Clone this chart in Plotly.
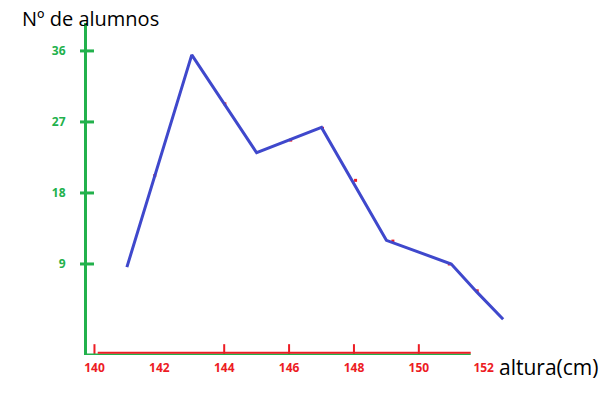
import plotly.graph_objects as go

# ---- data ----
heights = [141, 143, 145, 147, 149, 151, 151.8, 152.6]          # altura (cm)
students = [8.6, 35.5, 23.1, 26.3, 12.0, 9.0, 5.4, 2.0]          # Nº de alumnos
mark_x = [141.86, 143, 144.02, 146.05, 147.03, 148.05, 149.2, 150.94, 151.8]  # small red marks on the line
mark_y = [20.2, 35.3, 29.3, 24.7, 26.2, 19.6, 11.9, 9.0, 5.6]
y_ticks = [9, 18, 27, 36]
x_ticks = [140, 142, 144, 146, 148, 150, 152]
x_tick_marks = [140, 144, 146, 148, 150]

GREEN = "#22b14c"
RED = "#ed1c24"
BLUE = "#3f48cc"

X_RANGE = [139.77, 155.74]
Y_RANGE = [-2.535, 39.54]
X_AXIS_END = 151.6

fig = go.Figure()

# red marks (mostly hidden under the line)
fig.add_trace(go.Scatter(x=mark_x, y=mark_y, mode="markers",
                         marker=dict(symbol="square", size=3, color=RED),
                         hoverinfo="skip", showlegend=False))
# blue polygon
fig.add_trace(go.Scatter(x=heights, y=students, mode="lines",
                         line=dict(color=BLUE, width=3),
                         showlegend=False))
# y-axis tick marks (crossing the axis)
fig.add_trace(go.Scatter(x=[X_RANGE[0]] * len(y_ticks), y=y_ticks, mode="markers",
                         marker=dict(symbol="line-ew", size=10,
                                     line=dict(color=GREEN, width=3)),
                         cliponaxis=False, hoverinfo="skip", showlegend=False))
# x-axis tick marks (above the axis)
fig.add_trace(go.Scatter(x=x_tick_marks, y=[Y_RANGE[0] + 0.75] * len(x_tick_marks),
                         mode="markers",
                         marker=dict(symbol="line-ns", size=7,
                                     line=dict(color=RED, width=2)),
                         cliponaxis=False, hoverinfo="skip", showlegend=False))

# hand-drawn x-axis: green base line with a red line just above it
fig.add_shape(type="line", xref="x", yref="y",
              x0=X_RANGE[0], x1=X_AXIS_END, y0=Y_RANGE[0] + 0.05, y1=Y_RANGE[0] + 0.05,
              line=dict(color=GREEN, width=2), layer="above")
fig.add_shape(type="line", xref="x", yref="y",
              x0=140.1, x1=X_AXIS_END, y0=Y_RANGE[0] + 0.3, y1=Y_RANGE[0] + 0.3,
              line=dict(color=RED, width=2), layer="above")

fig.update_layout(
    width=615, height=393,
    margin=dict(l=87, r=10, t=23, b=38),
    paper_bgcolor="white", plot_bgcolor="white",
    font=dict(family="Open Sans, sans-serif"),
    xaxis=dict(range=X_RANGE, showgrid=False, zeroline=False, showline=False,
               tickvals=x_ticks, ticktext=[str(v) for v in x_ticks],
               ticks="", ticklabelstandoff=4,
               tickfont=dict(color=RED, size=12, weight="bold")),
    yaxis=dict(range=Y_RANGE, showgrid=False, zeroline=False,
               showline=True, linecolor=GREEN, linewidth=3,
               tickvals=y_ticks, ticktext=[str(v) for v in y_ticks],
               ticks="", ticklabelstandoff=16,
               tickfont=dict(color=GREEN, size=12, weight="bold")),
    annotations=[
        dict(text="Nº de alumnos", xref="paper", yref="paper",
             x=-0.13, y=1.015, xanchor="left", yanchor="middle",
             showarrow=False, font=dict(size=20, color="black")),
        dict(text="altura(cm)", xref="paper", yref="paper",
             x=0.792, y=-0.035, xanchor="left", yanchor="middle",
             showarrow=False, font=dict(size=21, color="black")),
    ],
)

fig.write_html("out.html")
